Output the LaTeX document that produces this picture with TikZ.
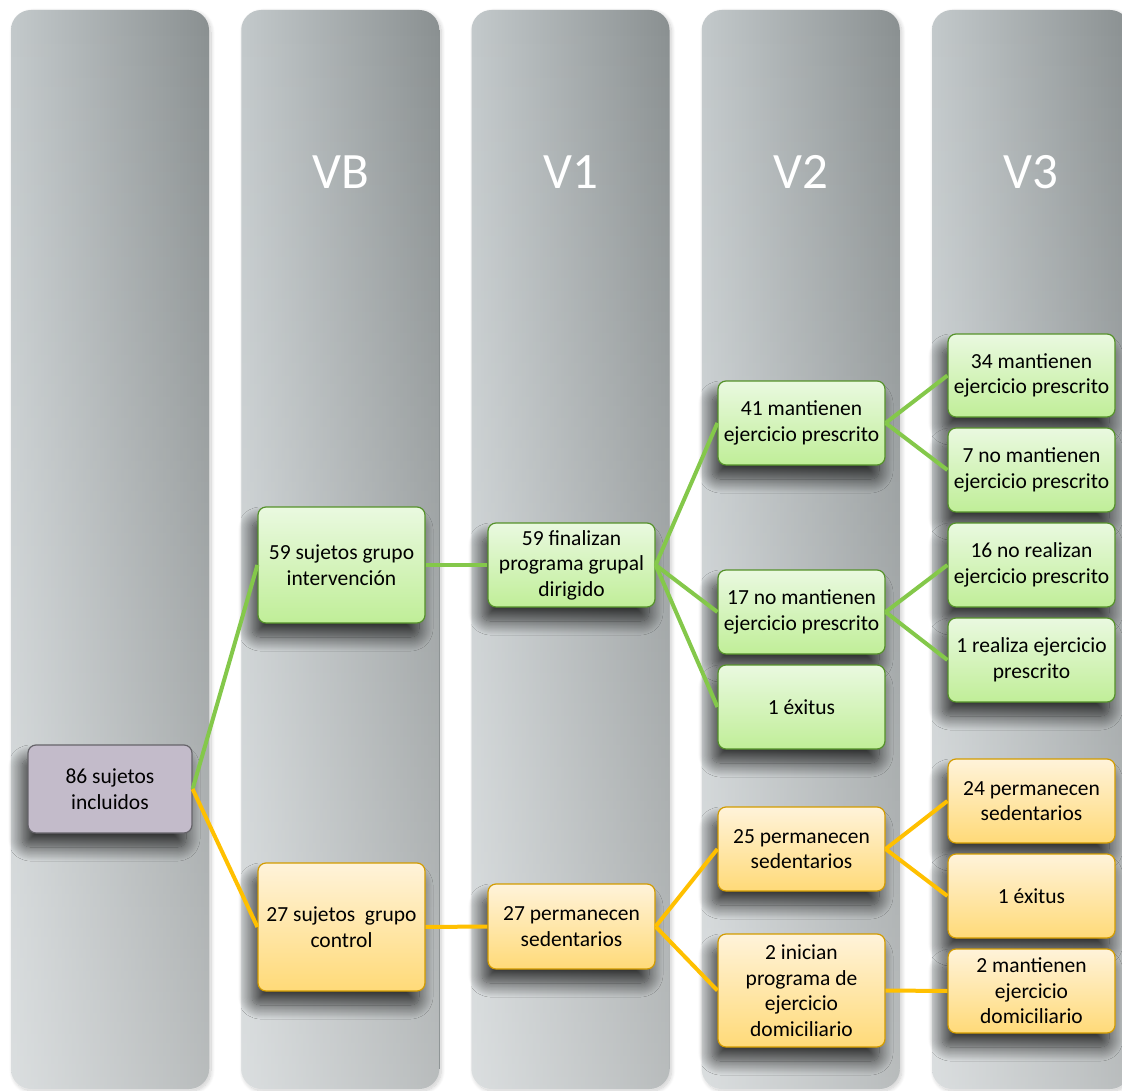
\documentclass[tikz,border=0pt]{standalone}
\usepackage{fontspec}
\setmainfont{Carlito}
\usetikzlibrary{shadows.blur,fadings}

\definecolor{colL}{HTML}{C3C9CB}
\definecolor{colR}{HTML}{8A9091}
\definecolor{grTop}{HTML}{EAF9E0}
\definecolor{grBot}{HTML}{C0EE98}
\definecolor{grLine}{HTML}{55922A}
\definecolor{grLink}{HTML}{84C84A}
\definecolor{orTop}{HTML}{FFF3DA}
\definecolor{orBot}{HTML}{FFDA78}
\definecolor{orLine}{HTML}{D39C00}
\definecolor{orLink}{HTML}{FFC000}
\definecolor{lvFill}{HTML}{C3BBCA}
\definecolor{lvLine}{HTML}{66646A}

\tikzset{
  column/.style={rounded corners=20pt, left color=colL, right color=colR,
    blur shadow={shadow xshift=2pt, shadow yshift=-2pt, shadow blur radius=4pt,
      shadow blur steps=12, shadow opacity=20}},
  hdr/.style={text=white, font=\fontsize{51}{60}\selectfont, inner sep=0pt},
  box/.style={rounded corners=8pt, draw, line width=1.2pt, minimum width=167pt,
    inner sep=0pt, align=center, font=\fontsize{21.5}{25.5}\selectfont,
    blur shadow={shadow xshift=-6pt, shadow yshift=-14pt, shadow blur radius=14pt,
      shadow blur steps=24, shadow blur extra rounding=6pt, shadow opacity=75}},
  gbox/.style={box, draw=grLine, top color=grTop, bottom color=grBot},
  obox/.style={box, draw=orLine, top color=orTop, bottom color=orBot},
  pbox/.style={box, draw=lvLine, fill=lvFill},
  glink/.style={draw=grLink, line width=4pt},
  olink/.style={draw=orLink, line width=4pt},
}

\begin{document}
\begin{tikzpicture}[x=1pt, y=-1pt]
\useasboundingbox (0,0) rectangle (1122,1091);

% five stage columns
\foreach \i in {0,...,4} {
  \pgfmathsetmacro\xa{11+230.25*\i}
  \shade[column] (\xa,10) rectangle ++(198,1079);
  \fill[white, opacity=.4, path fading=north, rounded corners=20pt] (\xa,10) rectangle ++(198,1079);
}

% column headings
\node[hdr] (hVB) at (341,172) {VB};
\node[hdr] (hV1) at (571,172) {V1};
\node[hdr] (hV2) at (801,172) {V2};
\node[hdr] (hV3) at (1031,172) {V3};

% boxes
\node[pbox, minimum width=164pt, minimum height=88pt] (inc) at (110,789) {86 sujetos\\incluidos};

\node[gbox, minimum height=116pt] (gi) at (341.5,565) {59 sujetos grupo\\intervención};
\node[obox, minimum height=128pt] (gc) at (341.5,927) {27 sujetos~ grupo\\control};

\node[gbox, minimum height=84pt] (fin) at (571.5,565) {59 finalizan\\programa grupal\\dirigido};
\node[obox, minimum height=85pt] (sed27) at (571.5,926.5) {27 permanecen\\sedentarios};

\node[gbox, minimum height=84pt] (m41) at (801.5,423) {41 mantienen\\ejercicio prescrito};
\node[gbox, minimum height=84pt] (nm17) at (801.5,612) {17 no mantienen\\ejercicio prescrito};
\node[gbox, minimum height=84pt] (ex1) at (801.5,707) {1 éxitus};
\node[obox, minimum height=84pt] (sed25) at (801.5,849) {25 permanecen\\sedentarios};
\node[obox, minimum height=113pt] (ini2) at (801.5,990.5) {2 inician\\programa de\\ejercicio\\domiciliario};

\node[gbox, minimum height=83pt] (m34) at (1031.5,375.5) {34 mantienen\\ejercicio prescrito};
\node[gbox, minimum height=84pt] (nm7) at (1031.5,470) {7 no mantienen\\ejercicio prescrito};
\node[gbox, minimum height=84pt] (nr16) at (1031.5,565) {16 no realizan\\ejercicio prescrito};
\node[gbox, minimum height=84pt] (r1) at (1031.5,660) {1 realiza ejercicio\\prescrito};
\node[obox, minimum height=84pt] (sed24) at (1031.5,801) {24 permanecen\\sedentarios};
\node[obox, minimum height=84pt] (ex1b) at (1031.5,896) {1 éxitus};
\node[obox, minimum height=84pt] (dom2) at (1031.5,991) {2 mantienen\\ejercicio\\domiciliario};

% connectors, intervention branch
\draw[glink] (inc.east) -- (gi.west);
\draw[glink] (gi.east) -- (fin.west);
\draw[glink] (fin.east) -- (m41.west);
\draw[glink] (fin.east) -- (nm17.west);
\draw[glink] (fin.east) -- (ex1.west);
\draw[glink] (m41.east) -- (m34.west);
\draw[glink] (m41.east) -- (nm7.west);
\draw[glink] (nm17.east) -- (nr16.west);
\draw[glink] (nm17.east) -- (r1.west);

% connectors, control branch
\draw[olink] (inc.east) -- (gc.west);
\draw[olink] (gc.east) -- (sed27.west);
\draw[olink] (sed27.east) -- (sed25.west);
\draw[olink] (sed27.east) -- (ini2.west);
\draw[olink] (sed25.east) -- (sed24.west);
\draw[olink] (sed25.east) -- (ex1b.west);
\draw[olink] (ini2.east) -- (dom2.west);
\end{tikzpicture}
\end{document}
